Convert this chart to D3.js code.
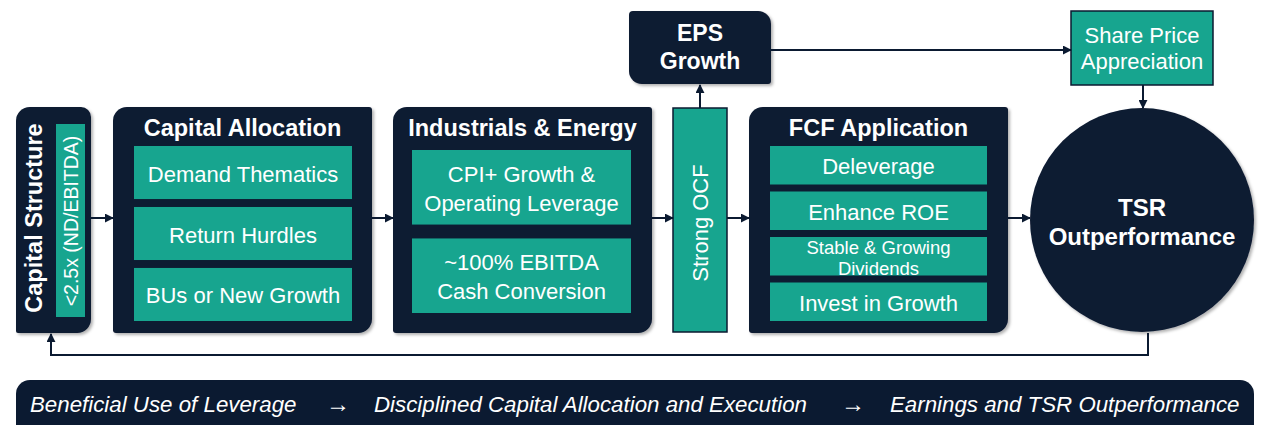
<!DOCTYPE html>
<html>
<head>
<meta charset="utf-8">
<script src="https://cdnjs.cloudflare.com/ajax/libs/d3/7.8.5/d3.min.js"></script>
<style>
  body { margin: 0; background: #fff; }
  svg { display: block; font-family: "Liberation Sans", Arial, sans-serif; }
</style>
</head>
<body>
<svg id="flow" width="1263" height="425"></svg>
<script>
// labels
const structureLabels = ["Capital Structure", "<2.5x (ND/EBITDA)"];
const panelTitles = ["Capital Allocation", "Industrials & Energy", "FCF Application"];
const allocationItems = [["Demand Thematics"], ["Return Hurdles"], ["BUs or New Growth"]];
const industrialItems = [["CPI+ Growth &", "Operating Leverage"], ["~100% EBITDA", "Cash Conversion"]];
const fcfItems = [["Deleverage"], ["Enhance ROE"], ["Stable & Growing", "Dividends"], ["Invest in Growth"]];
const ocfLabel = "Strong OCF";
const epsLabel = ["EPS", "Growth"];
const shareLabel = ["Share Price", "Appreciation"];
const tsrLabel = ["TSR", "Outperformance"];
const footerSteps = ["Beneficial Use of Leverage", "Disciplined Capital Allocation and Execution", "Earnings and TSR Outperformance"];

const NAVY = "#0b1a31", TEAL = "#17a58f";

const svg = d3.select("#flow");
const defs = svg.append("defs");

defs.append("marker")
    .attr("id", "arrow")
    .attr("viewBox", "0 0 10 10")
    .attr("refX", 9).attr("refY", 5)
    .attr("markerWidth", 4.5).attr("markerHeight", 4.5)
    .attr("orient", "auto")
  .append("path")
    .attr("d", "M0,0 L10,5 L0,10 z")
    .attr("fill", NAVY);

defs.append("filter")
    .attr("id", "shadow")
    .attr("x", "-10%").attr("y", "-10%").attr("width", "130%").attr("height", "130%")
  .append("feDropShadow")
    .attr("dx", 2).attr("dy", 2).attr("stdDeviation", 1.8)
    .attr("flood-color", "#000").attr("flood-opacity", 0.3);

// rect with separate corner radii [tl, tr, br, bl]
function cornerPath(x, y, w, h, r) {
  const [tl, tr, br, bl] = r;
  const p = d3.path();
  p.moveTo(x + tl, y);
  p.lineTo(x + w - tr, y);
  p.arcTo(x + w, y, x + w, y + tr, tr);
  p.lineTo(x + w, y + h - br);
  p.arcTo(x + w, y + h, x + w - br, y + h, br);
  p.lineTo(x + bl, y + h);
  p.arcTo(x, y + h, x, y + h - bl, bl);
  p.lineTo(x, y + tl);
  p.arcTo(x, y, x + tl, y, tl);
  p.closePath();
  return p.toString();
}

function multiLine(g, lines, cx, cy, size, weight, lineH) {
  const t = g.append("text")
      .attr("x", cx)
      .attr("text-anchor", "middle")
      .attr("dominant-baseline", "central")
      .attr("fill", "#fff")
      .style("font-size", size + "px")
      .style("font-weight", weight);
  lines.forEach((l, i) => {
    t.append("tspan")
      .attr("x", cx)
      .attr("y", cy + (i - (lines.length - 1) / 2) * lineH)
      .text(l);
  });
  return t;
}

const panelTop = 107, panelBottom = 333;
const panelCorners = [14, 3, 14, 3];

// capital structure column
const cs = { x: 16, w: 75 };
svg.append("path")
    .attr("d", cornerPath(cs.x, panelTop, cs.w, panelBottom - panelTop, [14, 10, 14, 2]))
    .attr("fill", NAVY)
    .attr("filter", "url(#shadow)");
svg.append("rect")
    .attr("x", 56).attr("y", 124).attr("width", 29).attr("height", 193)
    .attr("fill", TEAL);
svg.append("text")
    .attr("transform", "translate(34,218) rotate(-90)")
    .attr("text-anchor", "middle").attr("dominant-baseline", "central")
    .attr("fill", "#fff")
    .style("font-size", "23.5px").style("font-weight", "bold")
    .text(structureLabels[0]);
svg.append("text")
    .attr("transform", "translate(71,221) rotate(-90)")
    .attr("text-anchor", "middle").attr("dominant-baseline", "central")
    .attr("fill", "#fff")
    .style("font-size", "19.5px")
    .text(structureLabels[1]);

// three panels with teal item boxes
const panels = [
  { x: 113, w: 259, items: allocationItems, ix: 134, iw: 218, range: [146, 321], pad: 0.13, lh: 26 },
  { x: 393, w: 259, items: industrialItems, ix: 412, iw: 219, range: [150, 313], pad: 0.157, lh: 29 },
  { x: 749, w: 259, items: fcfItems, ix: 770, iw: 217, range: [146, 321], pad: 0.154, lh: 20.5 }
];

panels.forEach((p, k) => {
  const g = svg.append("g");
  g.append("path")
      .attr("d", cornerPath(p.x, panelTop, p.w, panelBottom - panelTop, panelCorners))
      .attr("fill", NAVY)
      .attr("filter", "url(#shadow)");
  multiLine(g, [panelTitles[k]], p.x + p.w / 2, 128, 23.5, "bold", 0);

  const y = d3.scaleBand()
      .domain(d3.range(p.items.length))
      .range(p.range)
      .paddingInner(p.pad);

  const item = g.selectAll("g.item")
      .data(p.items)
      .enter().append("g").attr("class", "item");
  item.append("rect")
      .attr("x", p.ix)
      .attr("y", (d, i) => y(i))
      .attr("width", p.iw)
      .attr("height", y.bandwidth())
      .attr("fill", TEAL);
  item.each(function (d, i) {
    const tight = d.length > 1 && p.lh < 22;
    multiLine(d3.select(this), d, p.ix + p.iw / 2, y(i) + y.bandwidth() / 2 + 1,
      tight ? 18.5 : 22, "normal", p.lh);
  });
});

// strong OCF bar
svg.append("rect")
    .attr("x", 673).attr("y", 108).attr("width", 54).attr("height", 224)
    .attr("fill", TEAL).attr("stroke", NAVY).attr("stroke-width", 1.5);
svg.append("text")
    .attr("transform", "translate(700,223) rotate(-90)")
    .attr("text-anchor", "middle").attr("dominant-baseline", "central")
    .attr("fill", "#fff")
    .style("font-size", "22px")
    .text(ocfLabel);

// EPS box
svg.append("path")
    .attr("d", cornerPath(629, 11, 142, 73, [4, 13, 3, 13]))
    .attr("fill", NAVY)
    .attr("filter", "url(#shadow)");
multiLine(svg.append("g"), epsLabel, 700, 47, 23, "bold", 28);

// share price box
svg.append("rect")
    .attr("x", 1071).attr("y", 11).attr("width", 142).attr("height", 74)
    .attr("fill", TEAL).attr("stroke", NAVY).attr("stroke-width", 1.5);
multiLine(svg.append("g"), shareLabel, 1142, 48, 22, "normal", 26);

// TSR circle
svg.append("circle")
    .attr("cx", 1142).attr("cy", 220).attr("r", 112)
    .attr("fill", NAVY)
    .attr("filter", "url(#shadow)");
multiLine(svg.append("g"), tsrLabel, 1142, 221, 24, "bold", 29);

// connectors
const links = [
  [[91, 218], [113, 218]],
  [[372, 218], [393, 218]],
  [[652, 218], [673, 218]],
  [[727, 218], [749, 218]],
  [[1008, 218], [1030, 218]],
  [[700, 108], [700, 85]],
  [[771, 50], [1071, 50]],
  [[1143, 85], [1143, 108]],
  [[1148, 333], [1148, 355], [51, 355], [51, 334]]
];
const line = d3.line();
svg.append("g").selectAll("path")
    .data(links)
    .enter().append("path")
    .attr("d", line)
    .attr("fill", "none")
    .attr("stroke", NAVY)
    .attr("stroke-width", 2)
    .attr("marker-end", "url(#arrow)");

// footer banner
svg.append("path")
    .attr("d", cornerPath(16, 380, 1238, 60, [14, 14, 14, 14]))
    .attr("fill", NAVY);
const footerX = [30, 374, 890];
const arrowX = [338, 853];
svg.append("g").selectAll("text")
    .data(footerSteps)
    .enter().append("text")
    .attr("x", (d, i) => footerX[i])
    .attr("y", 404)
    .attr("dominant-baseline", "central")
    .attr("fill", "#fff")
    .style("font-size", "22.3px").style("font-style", "italic")
    .text(d => d);
svg.append("g").selectAll("text")
    .data(arrowX)
    .enter().append("text")
    .attr("x", d => d)
    .attr("y", 403)
    .attr("text-anchor", "middle")
    .attr("dominant-baseline", "central")
    .attr("fill", "#fff")
    .style("font-size", "24px").style("font-weight", "bold")
    .text("\u2192");
</script>
</body>
</html>
